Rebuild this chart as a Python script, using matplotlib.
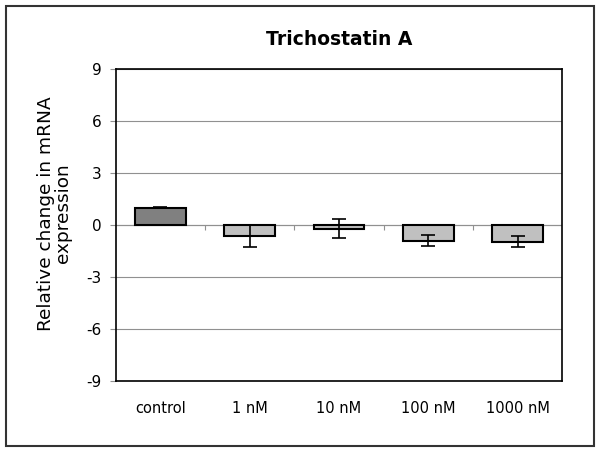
import matplotlib
matplotlib.use("Agg")
import matplotlib.pyplot as plt
import numpy as np
from matplotlib.patches import Rectangle

plt.rcParams["axes.unicode_minus"] = False

categories = ["control", "1 nM", "10 nM", "100 nM", "1000 nM"]
values = [1.0, -0.65, -0.2, -0.9, -0.95]
errors = [0.02, 0.63, 0.53, 0.33, 0.33]
bar_colors = ["#808080", "#c0c0c0", "#c0c0c0", "#c0c0c0", "#c0c0c0"]
yticks = [-9, -6, -3, 0, 3, 6, 9]

fig = plt.figure(figsize=(6, 4.51), dpi=100)
ax = fig.add_axes([0.193, 0.155, 0.744, 0.692])

x = np.arange(len(categories))
ax.bar(x, values, width=0.57, color=bar_colors, edgecolor="black", linewidth=1.5, zorder=3)
ax.errorbar(x, values, yerr=errors, fmt="none", ecolor="black", elinewidth=1.2,
            capsize=5, capthick=1.2, zorder=4)

ax.set_xlim(-0.5, len(categories) - 0.5)
ax.set_ylim(-9, 9)
ax.set_yticks(yticks)
ax.yaxis.grid(True, color="#909090", linewidth=0.8, zorder=0)
ax.axhline(0, color="#909090", linewidth=0.8, zorder=1)
# small category separator ticks on the zero line
ax.vlines(x[:-1] + 0.5, -0.3, 0, color="#909090", linewidth=0.8, zorder=1)

ax.set_xticks(x)
ax.set_xticklabels(categories, fontsize=10.5)
ax.tick_params(axis="x", length=0, pad=14)
ax.tick_params(axis="y", labelsize=11, length=4, color="#909090", pad=6)

for s in ax.spines.values():
    s.set_linewidth(1.2)
    s.set_color("black")

ax.set_ylabel("Relative change in mRNA\nexpression", fontsize=13.3, linespacing=0.95)
ax.yaxis.set_label_coords(-0.098, 0.537)
ax.set_title("Trichostatin A", fontsize=13.5, fontweight="bold", pad=17)

fig.patches.append(Rectangle((0.01, 0.012), 0.98, 0.975, transform=fig.transFigure,
                             fill=False, edgecolor="#333333", linewidth=1.5))

fig.savefig("out.png", dpi=100)
